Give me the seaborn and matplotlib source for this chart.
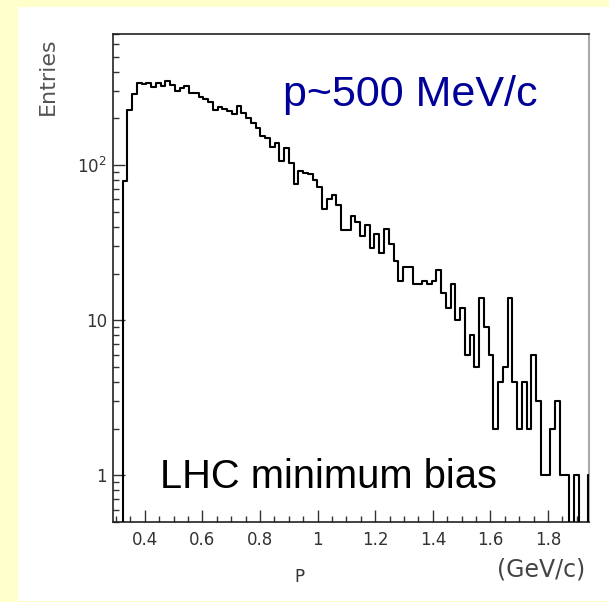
import numpy as np
import pandas as pd
import matplotlib
matplotlib.use("Agg")
import matplotlib.pyplot as plt
from matplotlib.patches import Rectangle
from matplotlib.ticker import (FixedLocator, FixedFormatter, LogLocator,
                               MultipleLocator, FuncFormatter, NullFormatter)
import seaborn as sns

# Momentum histogram: 100 bins over the axis range, plus one bin just past it
p_lo, p_hi = 0.29, 1.94
n_bins = 100
entries = [
    0, 0, 79, 226, 286, 340, 333, 340, 320, 340,
    323, 348, 328, 302, 312, 325, 290, 293, 273, 265,
    256, 226, 236, 229, 224, 215, 240, 218, 200, 186,
    173, 154, 149, 130, 139, 106, 128, 103, 76, 91,
    89, 88, 80, 72, 52, 60, 64, 55, 38, 38,
    47, 43, 35, 41, 29, 36, 27, 39, 31, 24,
    18, 22, 22, 17, 17, 18, 17, 18, 21, 15,
    12, 17, 10, 12, 6, 8, 5, 14, 9, 6,
    2, 4, 5, 14, 4, 2, 4, 2, 6, 3,
    1, 1, 2, 3, 1, 1, 0, 1, 0, 0,
    1,
]
x_ticks = [0.4, 0.6, 0.8, 1.0, 1.2, 1.4, 1.6, 1.8]
y_ticks = [1, 10, 100]
y_tick_labels = ["1", "10", r"$\mathregular{10^{2}}$"]

bin_width = (p_hi - p_lo) / n_bins
edges = p_lo + bin_width * np.arange(len(entries) + 1)
centers = 0.5 * (edges[:-1] + edges[1:])
df = pd.DataFrame({"p": centers, "entries": entries})

W, H = 609, 602
fig = plt.figure(figsize=(W / 100, H / 100), dpi=100, facecolor="#FFFFCC")
fig.patches.append(Rectangle((18 / W, 1 / H), 591 / W, 594 / H,
                             transform=fig.transFigure, facecolor="white",
                             edgecolor="none", zorder=-10))

ax = fig.add_axes([113 / W, 80 / H, 476 / W, 488 / H])
ax.set_zorder(2)
ax.set_facecolor("white")

sns.histplot(data=df, x="p", weights="entries", bins=edges.tolist(),
             element="step", fill=False, color="black", linewidth=1.5,
             zorder=3, ax=ax)

ax.set_yscale("log")
# a hair of room on the right so the riser at the last edge stays visible
ax.set_xlim(p_lo, p_hi + 0.002)
ax.set_ylim(0.5, 700)
ax.set_xlabel("")
ax.set_ylabel("")

ax.xaxis.set_major_locator(FixedLocator(x_ticks))
ax.xaxis.set_major_formatter(FuncFormatter(lambda v, _: f"{v:g}"))
ax.xaxis.set_minor_locator(MultipleLocator(0.05))
ax.yaxis.set_major_locator(FixedLocator(y_ticks))
ax.yaxis.set_major_formatter(FixedFormatter(y_tick_labels))
ax.yaxis.set_minor_locator(LogLocator(base=10, subs=np.arange(2, 10), numticks=20))
ax.yaxis.set_minor_formatter(NullFormatter())

ax.tick_params(which="both", direction="in", top=False, right=False,
               color="#333333", width=1.0, labelcolor="#333333",
               labelsize=12)
ax.tick_params(which="major", length=8.6)
ax.tick_params(which="minor", length=4.3)
ax.tick_params(axis="x", pad=6.5)
ax.tick_params(axis="y", pad=4.5)
for lab in ax.get_xticklabels() + ax.get_yticklabels():
    lab.set_fontfamily("DejaVu Sans")

for side in ("left", "top", "bottom"):
    ax.spines[side].set_color("#222222")
    ax.spines[side].set_linewidth(1.2)
ax.spines["right"].set_color("#aaaaaa")
ax.spines["right"].set_linewidth(1.5)

# axis titles
fig.text(48 / W, 1 - 76 / H, "Entries", rotation=90, ha="center", va="center",
         fontsize=16, color="#555555", family="DejaVu Sans")
fig.text(299 / W, 1 - 577 / H, "P", ha="center", va="center",
         fontsize=12, color="#333333", family="DejaVu Sans")
fig.text(541 / W, 1 - 570 / H, "(GeV/c)", ha="center", va="center",
         fontsize=17, color="#444444", family="DejaVu Sans")

# annotations
fig.text(283 / W, 1 - 106 / H, "p~500 MeV/c", ha="left", va="baseline",
         fontsize=31, color="#000099", family="Liberation Sans", zorder=5)
fig.text(160 / W, 1 - 488 / H, "LHC minimum bias", ha="left", va="baseline",
         fontsize=28.7, color="black", family="Liberation Sans", zorder=5)

fig.savefig("out.png", dpi=100, facecolor=fig.get_facecolor())
